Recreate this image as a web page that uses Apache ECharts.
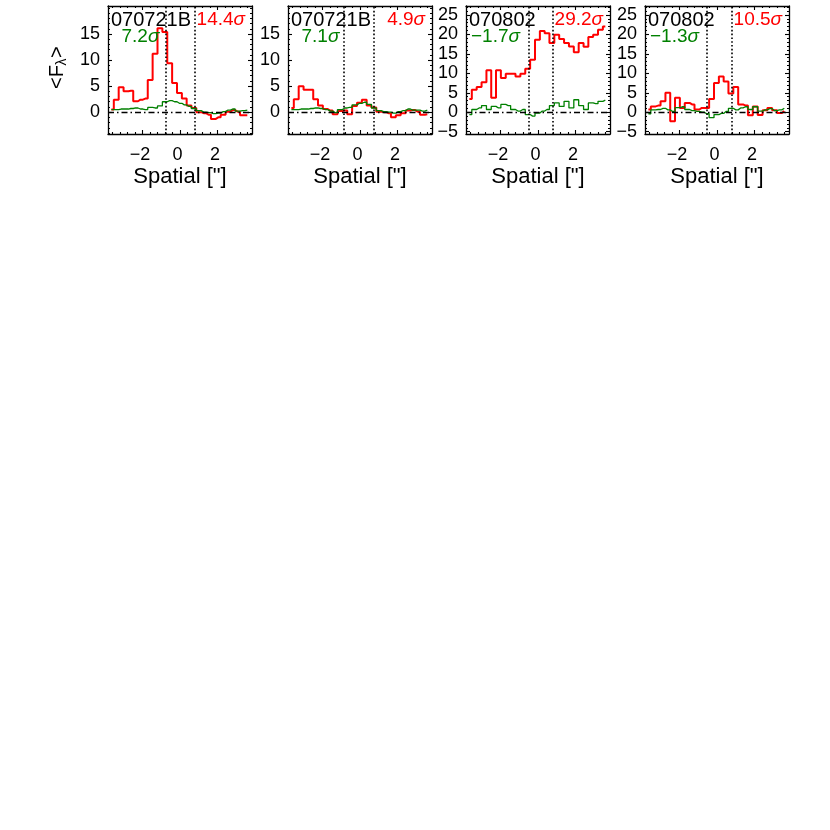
<!DOCTYPE html>
<html><head><meta charset="utf-8">
<script src="https://cdn.jsdelivr.net/npm/echarts@6/dist/echarts.min.js"></script>
<style>html,body{margin:0;padding:0;background:#fff}#c{width:830px;height:830px}</style>
</head><body><div id="c"></div>
<script>
// ---- data ----
const spatial = [-3.66,-3.40,-3.14,-2.88,-2.62,-2.37,-2.11,-1.85,-1.59,-1.33,-1.07,-0.81,-0.55,-0.29,-0.03,0.23,0.48,0.74,1.00,1.26,1.52,1.78,2.04,2.30,2.56,2.81,3.07,3.33,3.59];
const red1   = [0.5,2.4,4.8,4.0,4.1,2.1,2.4,2.6,6.2,11.2,16.1,15.4,9.4,5.6,3.7,2.6,1.3,0.8,0.0,-0.2,-0.5,-1.3,-1.0,-0.5,0.1,0.4,0.1,-0.6,-0.6];
const green1 = [0.5,0.5,0.6,0.6,0.7,0.8,0.6,0.5,0.9,0.8,1.2,2.0,2.2,2.0,1.7,1.4,1.1,0.7,0.3,0.0,-0.1,-0.3,-0.2,0.1,0.4,0.6,0.2,0.3,0.4];
const red2   = [0.8,2.5,5.0,4.3,4.3,2.5,1.3,0.6,0.3,-0.4,0.2,0.3,-0.4,1.2,1.8,2.4,1.3,0.9,0.1,0.0,-0.2,-1.0,-0.6,-0.2,0.3,0.4,0.1,-0.5,-0.4];
const green2 = [0.5,0.5,0.6,0.6,0.7,0.8,0.7,0.5,0.2,-0.1,0.5,0.8,0.9,1.4,1.7,1.9,1.5,0.8,0.3,0.1,0.0,-0.2,0.1,0.3,0.6,0.4,0.4,0.2,0.4];
const red3   = [3.4,5.8,6.5,7.7,10.8,3.7,10.8,8.8,9.9,9.9,9.2,9.9,11.2,13.5,18.6,20.9,20.3,17.8,19.9,18.8,17.8,16.9,15.4,17.8,16.8,19.3,19.9,21.2,22.0];
const green3 = [-0.6,0.7,1.1,1.7,0.7,1.5,1.1,2.0,1.7,0.7,0.3,0.7,-0.6,-1.0,-0.2,0.3,0.7,1.7,2.4,1.5,2.8,1.1,3.2,1.7,0.7,2.4,2.2,2.8,3.1];
const red4   = [0.7,1.5,1.7,2.8,5.0,-2.3,3.7,1.1,2.4,2.0,0.7,1.1,1.1,3.4,7.5,9.2,7.9,4.8,6.5,2.0,1.7,-0.8,1.5,-0.7,0.5,1.1,0.5,-0.2,0.3];
const green4 = [-0.4,0.6,0.7,1.0,0.6,0.2,1.2,1.4,0.7,0.4,0.2,0.0,-0.4,-1.4,-0.6,-0.3,0.2,1.0,0.6,1.1,1.4,0.7,1.4,0.3,0.6,0.9,0.4,0.6,1.0];

const objNames  = ['070721B','070721B','070802','070802'];
const redSigma  = ['14.4','4.9','29.2','10.5'];
const greenSigma= ['7.2','7.1','\u22121.7','\u22121.3'];
const apertures = [[-0.76,0.76],[-0.85,0.71],[-0.51,0.77],[-0.53,0.76]];

const xRange = [-3.84, 3.84];
const yRanges = [[-4.2,20.4],[-4.2,20.4],[-5.6,27.3],[-5.6,27.3]];
const xTickLabels = [-2,0,2];
const xMinorTicks = [-3.6,-3.2,-2.8,-2.4,-1.6,-1.2,-0.8,-0.4,0.4,0.8,1.2,1.6,2.4,2.8,3.2,3.6];
const yTickLabelsA = [0,5,10,15];
const yMinorTicksA = [-4,-3,-2,-1,1,2,3,4,6,7,8,9,11,12,13,14,16,17,18,19,20];
const yTickLabelsB = [-5,0,5,10,15,20,25];
const yMinorTicksB = [-4,-3,-2,-1,1,2,3,4,6,7,8,9,11,12,13,14,16,17,18,19,21,22,23,24,26,27];

const reds = [red1,red2,red3,red4];
const greens = [green1,green2,green3,green4];
const yLabels = [yTickLabelsA,yTickLabelsA,yTickLabelsB,yTickLabelsB];
const yMinors = [yMinorTicksA,yMinorTicksA,yMinorTicksB,yMinorTicksB];

// ---- layout ----
const FONT = 'Liberation Sans';
const gridLeft = [108,288,466,645];
const gridTop = 6, gridW = 144, gridH = 128;
const RED = '#ff0000', GREEN = '#008000';

const fmt = v => (v < 0 ? '\u2212' + Math.abs(v) : String(v));
const chart = echarts.init(document.getElementById('c'), null, {renderer:'canvas', width:830, height:830});

const grid=[], xAxis=[], yAxis=[], series=[], graphic=[];
const lineSt = {show:true, onZero:false, lineStyle:{color:'#000', width:1.3}};
const noLine = {show:false, onZero:false};
const tickSt = (vals, len) => ({show:true, inside:true, length:len, customValues:vals, lineStyle:{color:'#000', width:1.1}});

for (let p = 0; p < 4; p++) {
  grid.push({left:gridLeft[p], top:gridTop, width:gridW, height:gridH, containLabel:false, outerBoundsMode:'none'});
  const bx = {type:'value', gridIndex:p, min:xRange[0], max:xRange[1], splitLine:{show:false}, silent:true};
  xAxis.push(Object.assign({}, bx, {position:'bottom', axisLine:lineSt, axisTick:tickSt(xTickLabels,4),
    axisLabel:{show:true, customValues:xTickLabels, formatter:fmt, color:'#000', fontSize:18, fontFamily:FONT, margin:12, padding:[0,5,0,0]},
    name:'Spatial ["]', nameLocation:'middle', nameGap:32,
    nameTextStyle:{color:'#000', fontSize:22, fontFamily:FONT}}));
  xAxis.push(Object.assign({}, bx, {position:'bottom', axisLine:noLine, axisTick:tickSt(xMinorTicks,2), axisLabel:{show:false}}));
  xAxis.push(Object.assign({}, bx, {position:'top', axisLine:lineSt, axisTick:tickSt(xTickLabels,4), axisLabel:{show:false}}));
  xAxis.push(Object.assign({}, bx, {position:'top', axisLine:noLine, axisTick:tickSt(xMinorTicks,2), axisLabel:{show:false}}));

  const by = {type:'value', gridIndex:p, min:yRanges[p][0], max:yRanges[p][1], splitLine:{show:false}, silent:true};
  yAxis.push(Object.assign({}, by, {position:'left', axisLine:lineSt, axisTick:tickSt(yLabels[p],4),
    axisLabel:{show:true, customValues:yLabels[p], formatter:fmt, color:'#000', fontSize:18, fontFamily:FONT, margin:8}}));
  yAxis.push(Object.assign({}, by, {position:'left', axisLine:noLine, axisTick:tickSt(yMinors[p],2), axisLabel:{show:false}}));
  yAxis.push(Object.assign({}, by, {position:'right', axisLine:lineSt, axisTick:tickSt(yLabels[p],4), axisLabel:{show:false}}));
  yAxis.push(Object.assign({}, by, {position:'right', axisLine:noLine, axisTick:tickSt(yMinors[p],2), axisLabel:{show:false}}));

  series.push({type:'line', xAxisIndex:4*p, yAxisIndex:4*p, step:'middle', symbol:'none', silent:true,
    data: spatial.map((x,i)=>[x, reds[p][i]]), lineStyle:{color:RED, width:2}, z:2, animation:false});
  series.push({type:'line', xAxisIndex:4*p, yAxisIndex:4*p, step:'middle', symbol:'none', silent:true,
    data: spatial.map((x,i)=>[x, greens[p][i]]), lineStyle:{color:GREEN, width:1.3}, z:3, animation:false,
    markLine:{silent:true, symbol:['none','none'], animation:false, label:{show:false},
      data:[
        {yAxis:0, lineStyle:{type:[6,3,1.5,3], color:'#000', width:1.4}},
        {xAxis:apertures[p][0], lineStyle:{type:[1.6,2.2], color:'#000', width:1.6}},
        {xAxis:apertures[p][1], lineStyle:{type:[1.6,2.2], color:'#000', width:1.6}}
      ]}});

  const L = gridLeft[p];
  graphic.push({type:'text', x:L+3, y:20, silent:true, z:10,
    style:{text:objNames[p], fill:'#000', fontSize:20, fontFamily:FONT, align:'left', verticalAlign:'middle', textAlign:'left', textVerticalAlign:'middle'}});
  graphic.push({type:'text', x:L+137, y:20, silent:true, z:10,
    style:{text:redSigma[p]+'{s|\u03c3}', fill:RED, fontSize:19, fontFamily:FONT, align:'right', verticalAlign:'middle', textAlign:'right', textVerticalAlign:'middle',
      rich:{s:{fill:RED, fontSize:19, fontFamily:FONT, fontStyle:'italic'}}}});
  graphic.push({type:'text', x:(p<2 ? L+13.5 : L+5), y:37, silent:true, z:10,
    style:{text:greenSigma[p]+'{s|\u03c3}', fill:GREEN, fontSize:19, fontFamily:FONT, align:'left', verticalAlign:'middle', textAlign:'left', textVerticalAlign:'middle',
      rich:{s:{fill:GREEN, fontSize:19, fontFamily:FONT, fontStyle:'italic'}}}});
}

// y-axis title <F_lambda>, rotated
const tSt = (t, fs) => ({text:t, fill:'#000', fontSize:fs, fontFamily:FONT, align:'left', verticalAlign:'middle', textAlign:'left', textVerticalAlign:'middle'});
graphic.push({type:'group', x:57, y:68, rotation:Math.PI/2, silent:true, children:[
  {type:'text', x:-21, y:0, style:tSt('<F',20)},
  {type:'text', x:2.5, y:5, style:tSt('\u03bb',14)},
  {type:'text', x:10, y:0, style:tSt('>',20)}
]});

chart.setOption({animation:false, backgroundColor:'#fff', grid, xAxis, yAxis, series, graphic});
</script>
</body></html>
